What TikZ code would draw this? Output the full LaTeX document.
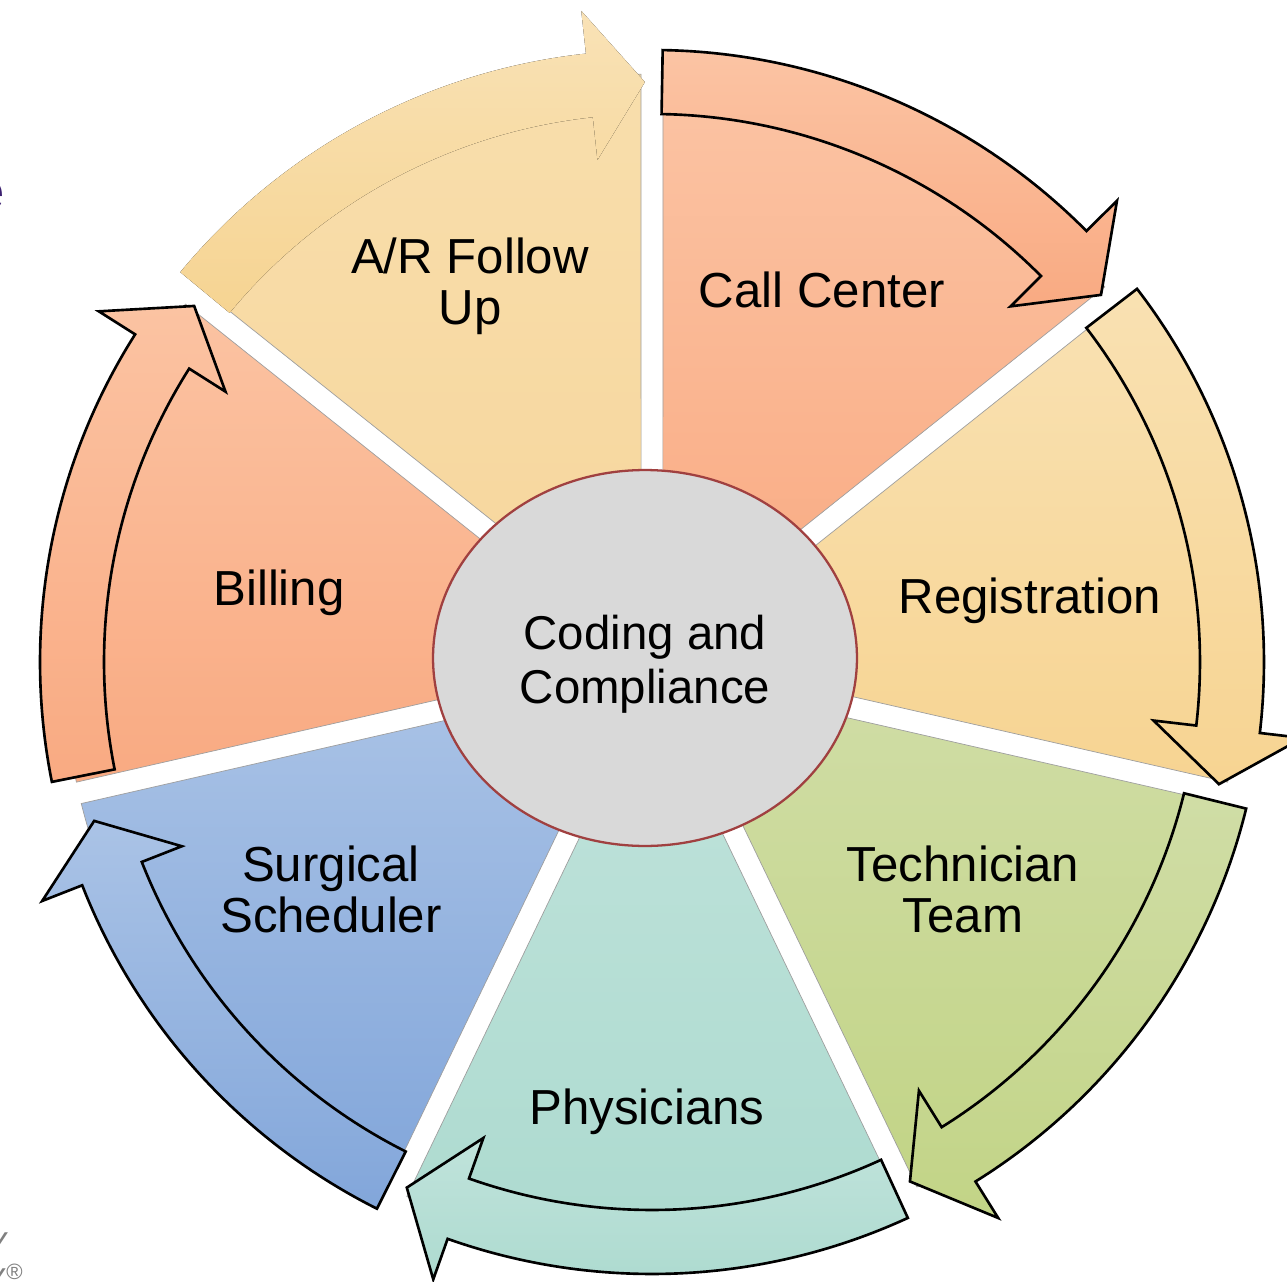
\documentclass[tikz,border=0pt]{standalone}
\usepackage{fontspec}
\setmainfont{Liberation Sans}
\usetikzlibrary{shapes.geometric}

\definecolor{callTop}{RGB}{251,196,164}
\definecolor{callBot}{RGB}{249,170,130}
\definecolor{regTop}{RGB}{249,225,178}
\definecolor{regBot}{RGB}{247,212,146}
\definecolor{techTop}{RGB}{208,221,166}
\definecolor{techBot}{RGB}{194,212,134}
\definecolor{physTop}{RGB}{192,227,219}
\definecolor{physBot}{RGB}{172,218,207}
\definecolor{surgTop}{RGB}{170,195,230}
\definecolor{surgBot}{RGB}{130,166,218}
\definecolor{billTop}{RGB}{251,195,162}
\definecolor{billBot}{RGB}{249,170,130}
\definecolor{arTop}{RGB}{248,222,172}
\definecolor{arBot}{RGB}{247,214,156}
\definecolor{arBandTop}{RGB}{249,226,182}
\definecolor{arBandBot}{RGB}{246,212,146}
\definecolor{hubGray}{RGB}{217,217,217}
\definecolor{hubRed}{RGB}{160,64,64}
\definecolor{titlePurple}{RGB}{60,32,112}

% pie piece between two boundary angles (clockwise)
\newcommand{\segwedgepath}[2]{({(#1+#2)/2}:25) -- (#1-1.07:588)
  arc[start angle=#1-1.07, end angle=#2+1.07, radius=588] -- cycle}
% curved arrow on the rim
\newcommand{\segbandpath}[2]{(#1-1:548) -- (#1-1:612)
  arc[start angle=#1-1, end angle=#2+6.2, radius=612]
  -- (#2+6.2:655) -- (#2+0.7:580) -- (#2+6.2:505) -- (#2+6.2:548)
  arc[start angle=#2+6.2, end angle=#1-1, radius=548] -- cycle}

\begin{document}
\begin{tikzpicture}[x=0.02cm,y=0.02cm,
    segwedge/.style 2 args={top color=#1,bottom color=#2,draw=gray!75,line width=0.4pt},
    segband/.style 2 args={top color=#1,bottom color=#2,draw=black,line width=1.5pt,line join=miter},
    seglabel/.style={align=center,inner sep=0pt,font=\fontsize{28}{29}\selectfont},
    hub/.style={ellipse,minimum width=8.48cm,minimum height=7.52cm,inner sep=0pt,
      fill=hubGray,draw=hubRed,line width=1.3pt},
    hublabel/.style={align=center,inner sep=0pt,font=\fontsize{27}{31}\selectfont}]
  \useasboundingbox (-652,-619) rectangle (635,662);
  \clip (-652,-619) rectangle (635,662);

  % pieces
  \draw[segwedge={callTop}{callBot}] \segwedgepath{90}{38.57};
  \draw[segwedge={regTop}{regBot}] \segwedgepath{38.57}{-12.86};
  \draw[segwedge={techTop}{techBot}] \segwedgepath{-12.86}{-64.29};
  \draw[segwedge={physTop}{physBot}] \segwedgepath{-64.29}{-115.71};
  \draw[segwedge={surgTop}{surgBot}] \segwedgepath{-115.71}{-167.14};
  \draw[segwedge={billTop}{billBot}] \segwedgepath{-167.14}{-218.57};
  \draw[segwedge={arTop}{arBot}] \segwedgepath{141.43}{90};

  % arrows
  \begin{scope}
    \draw[segband={callTop}{callBot}] \segbandpath{90}{38.57};
    \draw[segband={regTop}{regBot}] \segbandpath{38.57}{-12.86};
    \draw[segband={techTop}{techBot}] \segbandpath{-12.86}{-64.29};
    \draw[segband={physTop}{physBot}] \segbandpath{-64.29}{-115.71};
    \draw[segband={surgTop}{surgBot}] \segbandpath{-115.71}{-164.8};
    \draw[segband={billTop}{billBot}] \segbandpath{-167.7}{-218.57};
    \fill[top color=arBandTop,bottom color=arBandBot] \segbandpath{141.43}{90};
  \end{scope}

  \node[hub] (hub) at (-7,4) {};
  \node[hublabel] (hubtext) at (-7,-2) {Coding and\\Compliance};

  \node[seglabel] (callcenter) at (170,372) {Call Center};
  \node[seglabel] (registration) at (378,61) {Registration};
  \node[seglabel] (technician) at (311,-227) {Technician\\Team};
  \node[seglabel] (physicians) at (-5,-450) {Physicians};
  \node[seglabel] (surgical) at (-321,-227) {Surgical\\Scheduler};
  \node[seglabel] (billing) at (-373,69) {Billing};
  \node[seglabel] (arfollow) at (-182,376) {A/R Follow\\Up};

  % cut-off text at the left edge
  \node[anchor=base east,inner sep=0pt,text=titlePurple,font=\fontsize{30}{30}\selectfont]
    (titlefrag) at (-647,452) {e};
  \node[anchor=north east,inner sep=0pt,text=gray,font=\fontsize{18}{18}\selectfont]
    (logofragA) at (-643,-570) {Y};
  \node[anchor=north east,inner sep=0pt,text=gray,font=\fontsize{18}{18}\selectfont]
    (logofragB) at (-628,-602) {Y\textsuperscript{®}};
\end{tikzpicture}
\end{document}
